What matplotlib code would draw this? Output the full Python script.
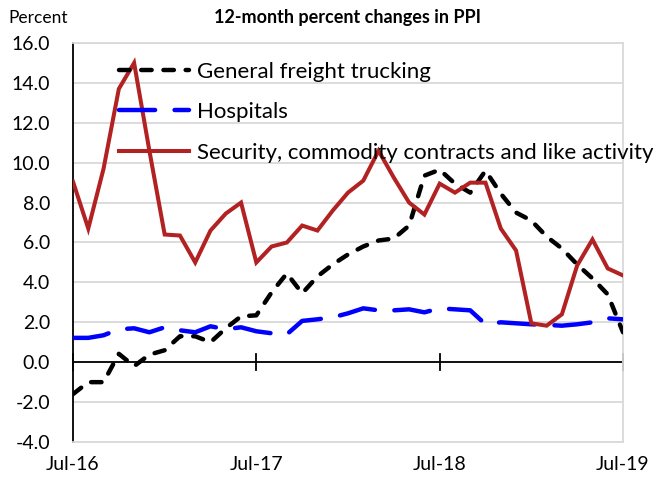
import pandas as pd
import matplotlib
matplotlib.use("Agg")
import matplotlib.pyplot as plt

plt.rcParams['font.family'] = ['Lato', 'DejaVu Sans']
plt.rcParams['lines.scale_dashes'] = False

# monthly data, Jul-2016 .. Jul-2019
months = pd.date_range("2016-07-01", "2019-07-01", freq="MS")
tick_labels = ["Jul-16", "Jul-17", "Jul-18", "Jul-19"]

trucking = [-1.6, -1.0, -1.0, 0.42, -0.2, 0.38, 0.6, 1.3, 1.3, 1.0, 1.7, 2.3, 2.35,
            3.5, 4.45, 3.45, 4.3, 4.9, 5.4, 5.8, 6.1, 6.2, 6.85, 9.35, 9.65,
            8.95, 8.5, 9.6, 8.45, 7.5, 7.1, 6.3, 5.7, 4.9, 4.2, 3.4, 1.5]
hospitals = [1.22, 1.22, 1.35, 1.65, 1.7, 1.5, 1.75, 1.6, 1.5, 1.8, 1.65, 1.75, 1.55,
             1.45, 1.4, 2.07, 2.15, 2.25, 2.45, 2.7, 2.6, 2.6, 2.65, 2.5, 2.7,
             2.65, 2.6, 1.9, 2.0, 1.95, 1.9, 1.87, 1.83, 1.9, 2.0, 2.2, 2.15]
security = [9.05, 6.7, 9.7, 13.7, 15.0, 10.6, 6.4, 6.35, 5.0, 6.6, 7.45, 8.0, 5.0,
            5.8, 6.0, 6.85, 6.6, 7.6, 8.5, 9.1, 10.6, 9.25, 8.0, 7.4, 8.95,
            8.5, 9.0, 9.0, 6.7, 5.6, 1.95, 1.83, 2.4, 4.85, 6.15, 4.7, 4.35]

x = list(range(len(months)))

fig = plt.figure(figsize=(6.65, 4.8), dpi=100)
ax = fig.add_axes([73 / 665, 1 - 442 / 480, 550 / 665, 399 / 480])

ax.plot(x, trucking, color="black", lw=3.2, dashes=(7.5, 8.5),
        dash_capstyle="round", label="General freight trucking", zorder=3)
ax.plot(x, hospitals, color="#0000FF", lw=3.2, dashes=(26, 14),
        dash_capstyle="round", label="Hospitals", zorder=3)
ax.plot(x, security, color="#B22222", lw=2.9, solid_joinstyle="miter",
        label="Security, commodity contracts and like activity", zorder=4)

ax.set_xlim(0, 36)
ax.set_ylim(-4, 16)
ax.set_yticks([v for v in range(-4, 17, 2)])
ax.set_yticklabels([f"{v:.1f}" for v in range(-4, 17, 2)], fontsize=14)
ax.tick_params(axis="y", length=0, pad=16.5)
ax.grid(axis="y", color="#d9d9d9", lw=1.3)
ax.set_axisbelow(True)

for s in ["top", "right", "bottom"]:
    ax.spines[s].set_color("#d9d9d9")
    ax.spines[s].set_linewidth(1.3)
ax.spines["left"].set_color("black")
ax.spines["left"].set_linewidth(1.3)

# horizontal axis crosses at zero, labels at the bottom
ax.axhline(0, color="black", lw=1.3, zorder=2)
ax.set_xticks([0, 12, 24, 36])
ax.set_xticklabels([])
ax.tick_params(axis="x", length=0)
for xi, lab in zip([0, 12, 24, 36], tick_labels):
    ax.plot([xi, xi], [-0.4, 0.4], color="black", lw=1.3, zorder=2, clip_on=False)
    ax.text(xi, -0.035, lab, transform=ax.get_xaxis_transform(),
            ha="center", va="top", fontsize=14)

leg = ax.legend(loc="upper left", bbox_to_anchor=(0.047, 1.003), frameon=False,
                fontsize=16, handlelength=3.15, labelspacing=0.92, handletextpad=0.36)

fig.text(0.5 * (73 + 623) / 665, 1 - 17 / 480, "12-month percent changes in PPI",
         ha="center", va="center", fontsize=13, fontweight="bold")
fig.text(8 / 665, 1 - 18 / 480, "Percent", ha="left", va="center", fontsize=12.5)

fig.savefig("out.png", dpi=100)
